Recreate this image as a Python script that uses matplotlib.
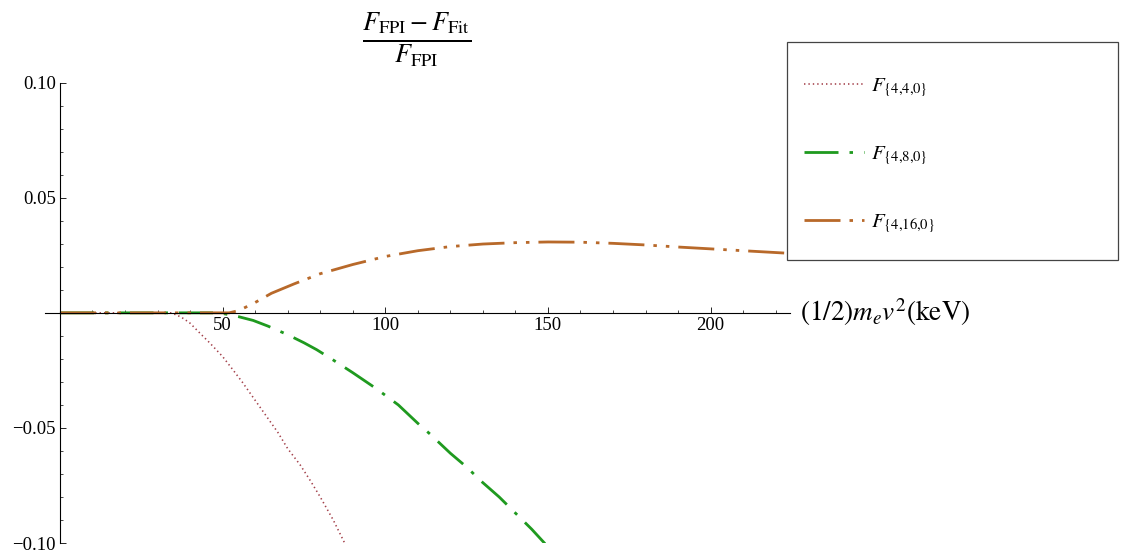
import numpy as np
import matplotlib
matplotlib.use("Agg")
import matplotlib.pyplot as plt
from matplotlib.patches import Rectangle

plt.rcParams['font.family'] = ['Liberation Serif', 'DejaVu Serif']
plt.rcParams['mathtext.fontset'] = 'stix'
plt.rcParams['lines.scale_dashes'] = False

# data
x_440 = [0, 20, 34, 36, 38, 40, 43, 46, 50, 53.3, 56, 60, 63.5, 67, 70, 73.8, 77, 80, 84, 87.5]
y_440 = [0, 0, 0, -0.001, -0.0025, -0.0045, -0.0088, -0.013, -0.019, -0.025, -0.030, -0.038,
         -0.045, -0.052, -0.059, -0.066, -0.073, -0.080, -0.090, -0.100]

x_480 = [0, 25, 49, 52, 55, 59.4, 64, 70, 75, 78.9, 84, 90, 97.3, 104, 110, 113.7, 120, 125,
         129.6, 135, 140, 145, 149.1]
y_480 = [0, 0, 0, -0.0008, -0.0017, -0.0033, -0.0058, -0.0095, -0.013, -0.016, -0.0205, -0.026,
         -0.033, -0.040, -0.048, -0.0526, -0.061, -0.067, -0.0733, -0.080, -0.087, -0.094, -0.1003]

x_4160 = [0, 25, 52, 55, 60, 65, 72, 80, 90, 100, 110, 120, 130, 140, 150, 160, 170, 180, 190,
          200, 210, 225]
y_4160 = [0, 0, 0, 0.001, 0.0045, 0.0085, 0.0126, 0.017, 0.021, 0.0245, 0.027, 0.0288, 0.0299,
          0.0305, 0.0308, 0.0307, 0.0302, 0.0295, 0.0286, 0.0278, 0.027, 0.0258]

labels = [r"$F_{\{4{,}4{,}0\}}$", r"$F_{\{4{,}8{,}0\}}$", r"$F_{\{4{,}16{,}0\}}$"]

fig = plt.figure(figsize=(11.25, 5.55), dpi=100)
W, H = 1125, 555
ax = fig.add_axes([45 / W, 1 - 543 / H, 745 / W, (543 - 82.7) / H])

px = 0.72
l1, = ax.plot(x_440, y_440, color='#a3404a', lw=1.6 * px, linestyle=(0, (1.4 * px, 3.0 * px)))
l2, = ax.plot(x_480, y_480, color='#1f9a1f', lw=2.8 * px,
              linestyle=(0, (34 * px, 11 * px, 3.5 * px, 11 * px)), solid_capstyle='butt')
l3, = ax.plot(x_4160, y_4160, color='#b8692a', lw=2.8 * px,
              linestyle=(0, (36 * px, 9 * px, 3.5 * px, 9 * px, 3.5 * px, 9 * px)), solid_capstyle='butt')

ax.set_xlim(-4.6, 224.4)
ax.set_ylim(-0.1, 0.1)
for s in ['top', 'right']:
    ax.spines[s].set_visible(False)
ax.spines['left'].set_position(('data', 0))
ax.spines['bottom'].set_position(('data', 0))
ax.spines['left'].set_linewidth(0.8)
ax.spines['bottom'].set_linewidth(0.8)
ax.patch.set_alpha(0)

ax.set_xticks([50, 100, 150, 200])
ax.set_xticks(np.arange(10, 225, 10), minor=True)
ax.set_yticks([-0.10, -0.05, 0.05, 0.10])
ax.set_yticks(np.arange(-0.09, 0.1, 0.01), minor=True)
ax.set_yticklabels(['\u22120.10', '\u22120.05', '0.05', '0.10'])
ax.tick_params(which='major', direction='in', length=4, width=0.6, labelsize=13.5, pad=3)
ax.tick_params(which='minor', direction='in', length=2.2, width=0.5)
ax.tick_params(axis='x', pad=3)

fig.text(800 / W, 1 - 312 / H, r"$(1/2)m_e v^2(\mathrm{keV})$", fontsize=19.5, va='center', ha='left')
fig.text(417 / W, 1 - 40 / H, r"$\frac{F_{\mathrm{FPI}} - F_{\mathrm{Fit}}}{F_{\mathrm{FPI}}}$",
         fontsize=27, va='center', ha='center')

fig.patches.append(Rectangle((787 / W, 1 - 260 / H), (1118 - 787) / W, (260 - 42) / H,
                             transform=fig.transFigure, fill=True, facecolor='white',
                             edgecolor='#444444', lw=0.9, zorder=5))
leg = fig.legend([l1, l2, l3], labels, loc='upper left', bbox_to_anchor=(794 / W, 1 - 66 / H),
                 frameon=False, fontsize=15, handlelength=2.85, handletextpad=0.35,
                 labelspacing=2.2, borderpad=0)
leg.set_zorder(6)

fig.savefig('out.png', dpi=100)
